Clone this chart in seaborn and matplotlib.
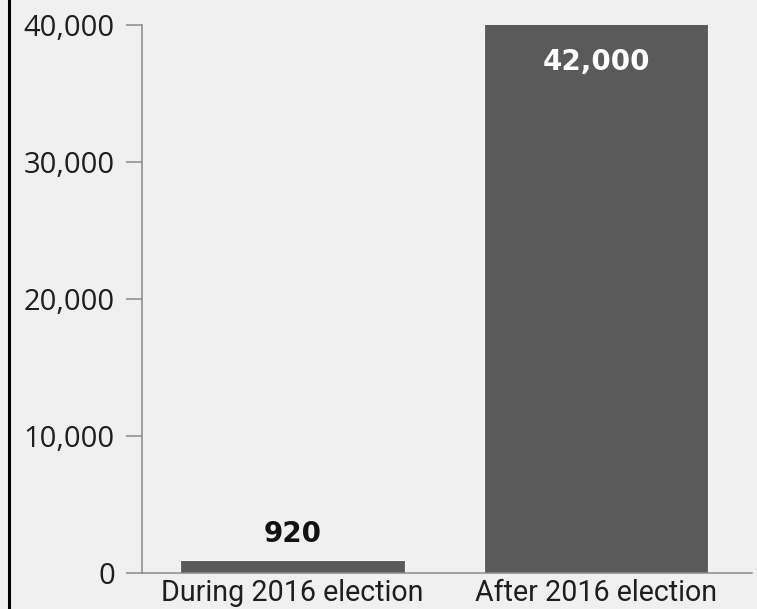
import numpy as np
import pandas as pd
import seaborn as sns
import matplotlib.pyplot as plt
from matplotlib.ticker import StrMethodFormatter
from matplotlib.lines import Line2D

periods = ['During 2016 election', 'After 2016 election']
counts = [920, 42000]
yticks = [0, 10000, 20000, 30000, 40000]

bg = '#f0f0f0'
bar_col = '#5a5a5a'
axis_col = '#8a8a8a'

sns.set_theme(style='white', rc={'axes.facecolor': bg, 'figure.facecolor': bg})
plt.rcParams['font.family'] = ['Open Sans', 'DejaVu Sans']

df = pd.DataFrame({'period': periods, 'count': counts})

fig = plt.figure(figsize=(7.57, 6.09), dpi=100)
ax = fig.add_axes([142/757, 1-573/609, (752-142)/757, (573-25)/609])

sns.barplot(data=df, x='period', y='count', color=bar_col, saturation=1,
            width=0.74, edgecolor='#f7f7f7', linewidth=0.8, ax=ax)

ymax = yticks[-1]
ax.set_ylim(0, ymax)
ax.set_xlim(-0.496, 1.514)
ax.set_yticks(yticks)
ax.yaxis.set_major_formatter(StrMethodFormatter('{x:,.0f}'))
ax.set_xlabel('')
ax.set_ylabel('')

for s in ['top', 'right']:
    ax.spines[s].set_visible(False)
for s in ['left', 'bottom']:
    ax.spines[s].set_color(axis_col)
    ax.spines[s].set_linewidth(1.1)

ax.tick_params(axis='y', length=11.5, width=1.1, color=axis_col, pad=8,
               labelsize=21, labelcolor='#1e1e1e', left=True)
ax.tick_params(axis='x', length=0, pad=4, labelcolor='#1e1e1e')
for lab in ax.get_xticklabels():
    lab.set_family(['Roboto', 'DejaVu Sans'])
    lab.set_fontsize(20.6)

# value labels: above short bars, inside (white) when the bar runs off the top
for i, v in enumerate(counts):
    if v >= ymax:
        ax.annotate(f'{v:,}', (i, ymax), xytext=(0, -32.4), textcoords='offset points',
                    ha='center', va='baseline', color='white', fontsize=20,
                    fontweight='bold', family='DejaVu Sans', annotation_clip=False)
    else:
        ax.annotate(f'{v:,}', (i, v), xytext=(0, 13), textcoords='offset points',
                    ha='center', va='baseline', color='#111111', fontsize=20,
                    fontweight='bold', family='DejaVu Sans')

fig.add_artist(Line2D([8.7/757, 8.7/757], [0, 1], transform=fig.transFigure,
                      color='black', lw=2.2))

fig.savefig('out.png', dpi=100, facecolor=bg)
